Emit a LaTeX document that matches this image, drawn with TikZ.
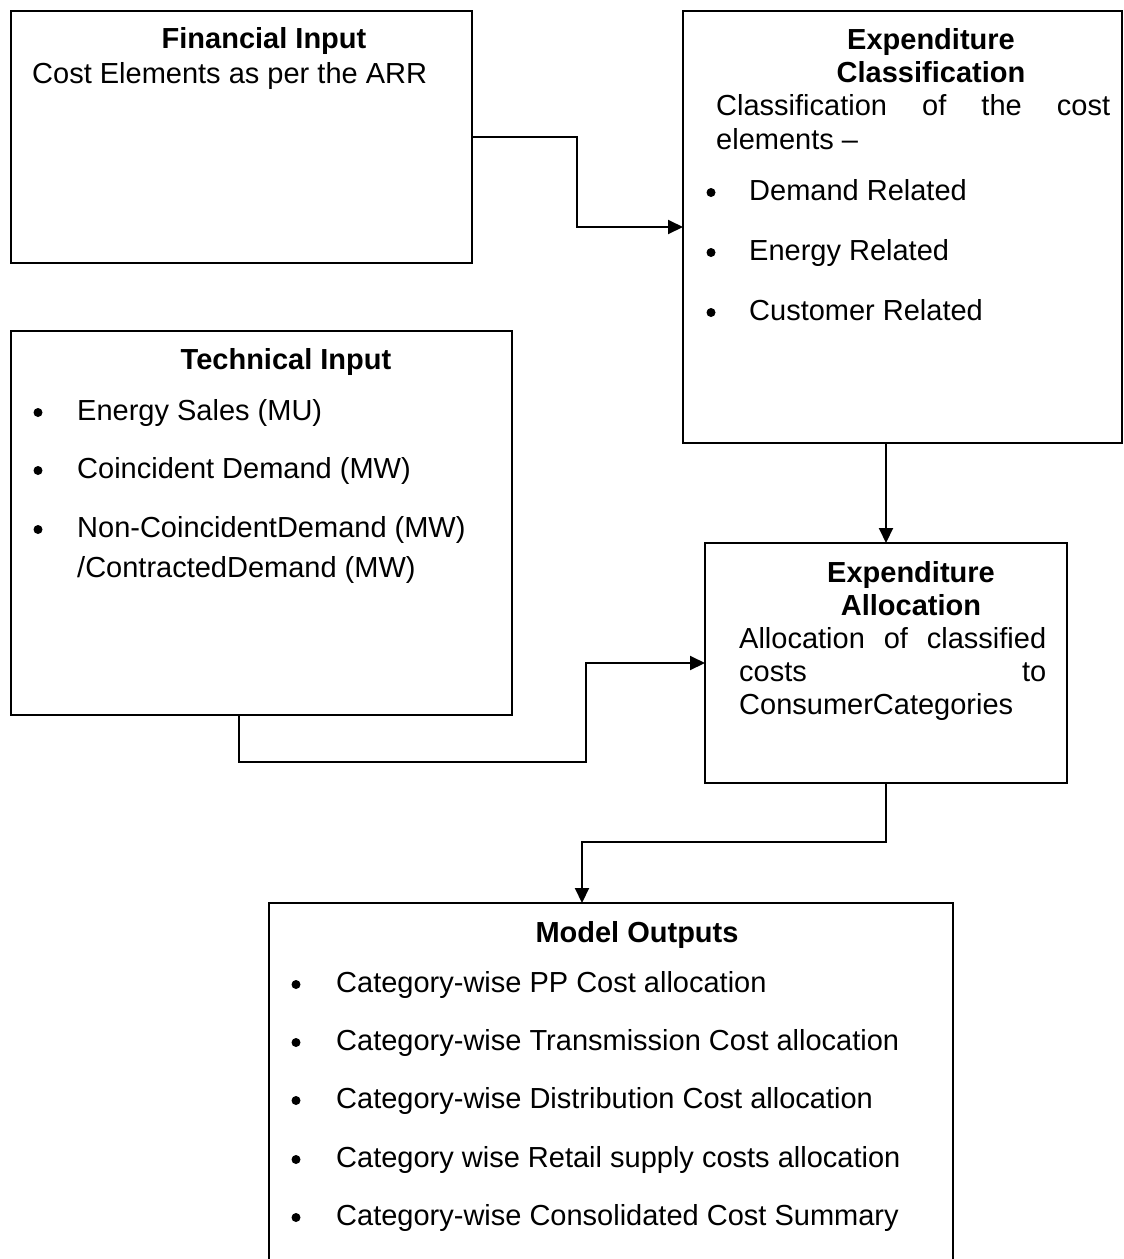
\documentclass[tikz,border=0pt]{standalone}
\usepackage{fontspec}
\setmainfont{Liberation Sans}
\usetikzlibrary{arrows.meta}
\newcommand\fsz{\fontsize{29}{33}\selectfont}
\begin{document}
\begin{tikzpicture}[x=1pt,y=-1pt,
  boxnode/.style={draw, line width=2.2pt, inner sep=0pt, outer sep=0pt, anchor=north west},
  txt/.style={anchor=base west, inner sep=0pt, font=\fsz},
  ttl/.style={anchor=base, inner sep=0pt, font=\fsz\bfseries},
  conn/.style={line width=2pt},
  arr/.style={conn, -{Triangle[length=15pt, width=14pt]}},
  bdot/.style={circle, fill, draw=none, inner sep=0pt, minimum size=9pt}
]
\useasboundingbox (0,0) rectangle (1124,1259);
\clip (0,0) rectangle (1124,1259);
\fill[white] (0,0) rectangle (1124,1259);

% boxes
\node[boxnode, minimum width=461pt, minimum height=252pt] (fin) at (11,11) {};
\node[boxnode, minimum width=439pt, minimum height=432pt] (cls) at (683,11) {};
\node[boxnode, minimum width=501pt, minimum height=384pt] (tech) at (11,331) {};
\node[boxnode, minimum width=362pt, minimum height=240pt] (alloc) at (705,543) {};
\node[boxnode, minimum width=684pt, minimum height=380pt] (model) at (269,903) {};

% Financial input
\node[ttl] (finT) at (264,48) {Financial Input};
\node[txt] (finB) at (32,83) {Cost Elements as per the ARR};

% Expenditure classification
\node[ttl] (clsT1) at (931,49) {Expenditure};
\node[ttl] (clsT2) at (931,82) {Classification};
\node[txt] (clsB1) at (716,115) {\hbox to 394pt{Classification\hfill of\hfill the\hfill cost}};
\node[txt] (clsB2) at (716,149) {elements –};
\node[bdot] (clsD1) at (711,192.5) {};
\node[txt] (clsL1) at (749,200) {Demand Related};
\node[bdot] (clsD2) at (711,252.5) {};
\node[txt] (clsL2) at (749,260) {Energy Related};
\node[bdot] (clsD3) at (711,312.5) {};
\node[txt] (clsL3) at (749,320) {Customer Related};

% Technical input
\node[ttl] (techT) at (286,369) {Technical Input};
\node[bdot] (techD1) at (38,412.5) {};
\node[txt] (techL1) at (77,420) {Energy Sales (MU)};
\node[bdot] (techD2) at (38,470.5) {};
\node[txt] (techL2) at (77,478) {Coincident Demand (MW)};
\node[bdot] (techD3) at (38,529.5) {};
\node[txt] (techL3) at (77,537) {Non-CoincidentDemand (MW)};
\node[txt] (techL4) at (77,577) {/ContractedDemand (MW)};

% Expenditure allocation
\node[ttl] (allT1) at (911,582) {Expenditure};
\node[ttl] (allT2) at (911,615) {Allocation};
\node[txt] (allB1) at (739,648) {\hbox to 307pt{Allocation\hfill of\hfill classified}};
\node[txt] (allB2) at (739,681) {\hbox to 307pt{costs\hfill to}};
\node[txt] (allB3) at (739,714) {ConsumerCategories};

% Model outputs
\node[ttl] (modT) at (637,942) {Model Outputs};
\node[bdot] (modD1) at (296,984.5) {};
\node[txt] (modL1) at (336,992) {Category-wise PP Cost allocation};
\node[bdot] (modD2) at (296,1042.5) {};
\node[txt] (modL2) at (336,1050) {Category-wise Transmission Cost allocation};
\node[bdot] (modD3) at (296,1100.5) {};
\node[txt] (modL3) at (336,1108) {Category-wise Distribution Cost allocation};
\node[bdot] (modD4) at (296,1159.5) {};
\node[txt] (modL4) at (336,1167) {Category wise Retail supply costs allocation};
\node[bdot] (modD5) at (296,1217.5) {};
\node[txt] (modL5) at (336,1225) {Category-wise Consolidated Cost Summary};

% connectors
\coordinate (j1) at (577,137);
\coordinate (j2) at (239,762);
\coordinate (j3) at (586,762);
\coordinate (j4) at (582,842);
\draw[arr] (fin.east) -- (j1) |- (cls.west);
\draw[arr] (cls.south -| alloc.north) -- (alloc.north);
\draw[arr] (tech.south -| j2) -- (j2) -- (j3) |- (alloc.west);
\draw[arr] (alloc.south) |- (j4) -- (j4 |- model.north);
\end{tikzpicture}
\end{document}
